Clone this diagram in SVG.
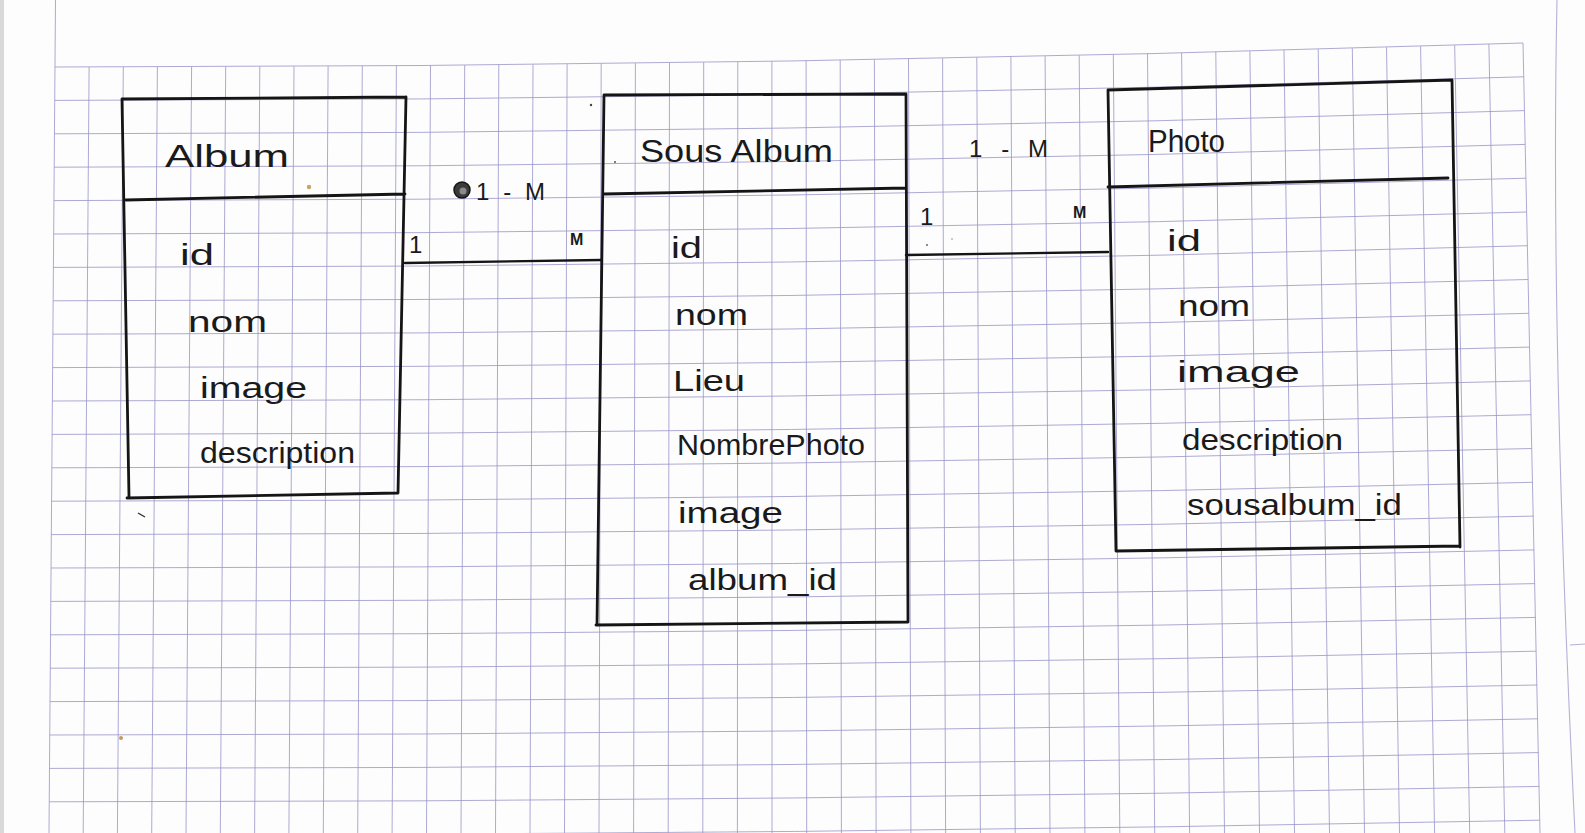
<svg xmlns="http://www.w3.org/2000/svg" width="1585" height="833" viewBox="0 0 1585 833">
<defs>
<style>
.grid path{fill:none;stroke:#9895c8;stroke-width:1;stroke-opacity:.8}
.pageedge{fill:none;stroke:#b4b1d6;stroke-width:1.1}
.ink{fill:none;stroke:#151515;stroke-width:2.8;stroke-linecap:round;stroke-linejoin:round}
.conn{fill:none;stroke:#151515;stroke-width:2.4;stroke-linecap:round}
text{font-family:"Liberation Sans",Arial,sans-serif;fill:#1a1a1a}
.title{font-size:32px}
.attr{font-size:30px}
.lbl{font-size:24px}
.small{font-size:16px;font-weight:bold}
</style>
</defs>

<!-- paper -->
<rect width="1585" height="833" fill="#fdfdfd"/>
<rect x="0" y="0" width="4" height="833" fill="#d9d9d9"/>
<path class="pageedge" d="M1557 0 Q1550 330 1575 833"/>
<path class="pageedge" d="M1570 645 L1585 644"/>

<!-- squared paper -->
<g id="grid" class="grid">
<path d="M55 67 Q789 67 1523 43"/>
<path d="M54.7 100.4 Q789.2 100.4 1523.7 76.8"/>
<path d="M54.5 133.8 Q789.5 133.8 1524.5 110.6"/>
<path d="M54.2 167.2 Q789.7 167.2 1525.2 144.4"/>
<path d="M54 200.6 Q790 200.6 1526 178.2"/>
<path d="M53.7 234 Q790.2 234 1526.7 212"/>
<path d="M53.4 267.4 Q790.4 267.4 1527.4 245.7"/>
<path d="M53.2 300.8 Q790.7 300.8 1528.2 279.5"/>
<path d="M52.9 334.2 Q790.9 334.2 1528.9 313.3"/>
<path d="M52.7 367.6 Q791.2 367.6 1529.7 347.1"/>
<path d="M52.4 401 Q791.4 401 1530.4 380.9"/>
<path d="M52.1 434.4 Q791.6 434.4 1531.1 414.7"/>
<path d="M51.9 467.8 Q791.9 467.8 1531.9 448.5"/>
<path d="M51.6 501.2 Q792.1 501.2 1532.6 482.3"/>
<path d="M51.4 534.6 Q792.4 534.6 1533.4 516.1"/>
<path d="M51.1 568 Q792.6 568 1534.1 549.9"/>
<path d="M50.8 601.4 Q792.8 601.4 1534.8 583.6"/>
<path d="M50.6 634.8 Q793.1 634.8 1535.6 617.4"/>
<path d="M50.3 668.2 Q793.3 668.2 1536.3 651.2"/>
<path d="M50.1 701.6 Q793.6 701.6 1537.1 685"/>
<path d="M49.8 735 Q793.8 735 1537.8 718.8"/>
<path d="M49.5 768.4 Q794 768.4 1538.5 752.6"/>
<path d="M49.3 801.8 Q794.3 801.8 1539.3 786.4"/>
<path d="M49 835.2 Q794.5 835.2 1540 820.2"/>

<path d="M55.5 0 L49 833"/>
<path d="M89.1 67 L83.2 833"/>
<path d="M123.3 67 L117.4 833"/>
<path d="M157.4 66.9 L151.7 833"/>
<path d="M191.6 66.8 L186 833"/>
<path d="M225.7 66.7 L220.3 833"/>
<path d="M259.8 66.5 L254.6 833"/>
<path d="M294 66.4 L288.9 833"/>
<path d="M328.1 66.2 L323.3 833"/>
<path d="M362.3 65.9 L357.7 833"/>
<path d="M396.4 65.7 L392.1 833"/>
<path d="M430.5 65.4 L426.5 833"/>
<path d="M464.7 65.1 L461 833"/>
<path d="M498.8 64.8 L495.5 833"/>
<path d="M533 64.5 L530 833"/>
<path d="M567.1 64.1 L564.5 833"/>
<path d="M601.2 63.7 L599 833"/>
<path d="M635.4 63.2 L633.6 833"/>
<path d="M669.5 62.8 L668.2 833"/>
<path d="M703.7 62.3 L702.8 833"/>
<path d="M737.8 61.8 L737.4 833"/>
<path d="M771.9 61.3 L772 833"/>
<path d="M806.1 60.7 L806.7 833"/>
<path d="M840.2 60.1 L841.4 833"/>
<path d="M874.4 59.5 L876.1 833"/>
<path d="M908.5 58.9 L910.9 833"/>
<path d="M942.6 58.2 L945.6 833"/>
<path d="M976.8 57.5 L980.4 833"/>
<path d="M1010.9 56.8 L1015.2 833"/>
<path d="M1045.1 56.1 L1050 833"/>
<path d="M1079.2 55.3 L1084.9 833"/>
<path d="M1113.3 54.5 L1119.8 833"/>
<path d="M1147.5 53.7 L1154.7 833"/>
<path d="M1181.6 52.9 L1189.6 833"/>
<path d="M1215.8 52 L1224.5 833"/>
<path d="M1249.9 51.1 L1259.5 833"/>
<path d="M1284 50.2 L1294.5 833"/>
<path d="M1318.2 49.2 L1329.5 833"/>
<path d="M1352.3 48.3 L1364.5 833"/>
<path d="M1386.5 47.3 L1399.5 833"/>
<path d="M1420.6 46.2 L1434.6 833"/>
<path d="M1454.7 45.2 L1469.7 833"/>
<path d="M1488.9 44.1 L1504.8 833"/>
<path d="M1523 43 L1540 833"/>
</g>

<!-- small stains and specks on the sheet -->
<g id="specks">
<circle cx="309" cy="187" r="2.2" fill="#c9a466"/>
<circle cx="121" cy="738" r="2" fill="#c49a5e"/>
<circle cx="591" cy="105" r="1.2" fill="#444"/>
<circle cx="615" cy="162" r="1" fill="#555"/>
<circle cx="927" cy="245" r="1" fill="#666"/>
<circle cx="952" cy="239" r="0.8" fill="#888"/>
<path d="M138 513 L145 517" stroke="#333" stroke-width="1.4" fill="none"/>
</g>

<!-- entity: Album -->
<g id="album">
<path class="ink" d="M122 99 L406 97 M126 200 L405 194 M122 99 L129 497 M406 97 L398 493 M127 498 L398 493"/>
<text class="title" x="165" y="167" font-size="36" textLength="124" lengthAdjust="spacingAndGlyphs">Album</text>
<text class="attr" x="180" y="265" font-size="32" textLength="34" lengthAdjust="spacingAndGlyphs">id</text>
<text class="attr" x="188" y="332" textLength="79" lengthAdjust="spacingAndGlyphs">nom</text>
<text class="attr" x="200" y="398" textLength="107" lengthAdjust="spacingAndGlyphs">image</text>
<text class="attr" x="200" y="463" textLength="155" lengthAdjust="spacingAndGlyphs">description</text>
</g>

<!-- entity: Sous Album -->
<g id="sous-album">
<path class="ink" d="M604 95 L906 94 M604 194 L906 188 M604 95 L597 625 M906 94 L908 622 M596 625 L908 622"/>
<text class="title" x="640" y="162" textLength="193" lengthAdjust="spacingAndGlyphs">Sous Album</text>
<text class="attr" x="671" y="258" textLength="31" lengthAdjust="spacingAndGlyphs">id</text>
<text class="attr" x="675" y="325" textLength="73" lengthAdjust="spacingAndGlyphs">nom</text>
<text class="attr" x="673" y="391" textLength="72" lengthAdjust="spacingAndGlyphs">Lieu</text>
<text class="attr" x="677" y="455" font-size="28" textLength="188" lengthAdjust="spacingAndGlyphs">NombrePhoto</text>
<text class="attr" x="678" y="523" textLength="105" lengthAdjust="spacingAndGlyphs">image</text>
<text class="attr" x="688" y="590" textLength="149" lengthAdjust="spacingAndGlyphs">album_id</text>
</g>

<!-- entity: Photo -->
<g id="photo">
<path class="ink" d="M1108 90 L1452 80 M1108 187 L1448 178 M1108 90 L1116 551 M1452 80 L1460 547 M1116 551 L1460 546"/>
<text class="title" x="1148" y="152" textLength="77" lengthAdjust="spacingAndGlyphs">Photo</text>
<text class="attr" x="1167" y="251" font-size="32" textLength="34" lengthAdjust="spacingAndGlyphs">id</text>
<text class="attr" x="1178" y="316" font-size="28" textLength="72" lengthAdjust="spacingAndGlyphs">nom</text>
<text class="attr" x="1177" y="382" textLength="123" lengthAdjust="spacingAndGlyphs">image</text>
<text class="attr" x="1182" y="450" textLength="161" lengthAdjust="spacingAndGlyphs">description</text>
<text class="attr" x="1187" y="515" textLength="215" lengthAdjust="spacingAndGlyphs">sousalbum_id</text>
</g>

<!-- relationships -->
<g id="connectors">
<path class="conn" d="M405 263 L601 260"/>
<path class="conn" d="M906 255 L1108 252"/>

<circle cx="462" cy="190" r="8" fill="#3a3a3a" stroke="#151515" stroke-width="1.5"/>
<circle cx="463" cy="191" r="3.5" fill="#8a8a8a"/>
<text class="lbl" x="476" y="200" font-size="26" textLength="69" lengthAdjust="spacing">1-M</text>
<text class="lbl" x="409" y="253">1</text>
<text class="small" x="570" y="245">M</text>

<text class="lbl" x="969" y="157" textLength="79" lengthAdjust="spacing">1 - M</text>
<text class="lbl" x="920" y="225">1</text>
<text class="small" x="1073" y="218">M</text>
</g>
</svg>
